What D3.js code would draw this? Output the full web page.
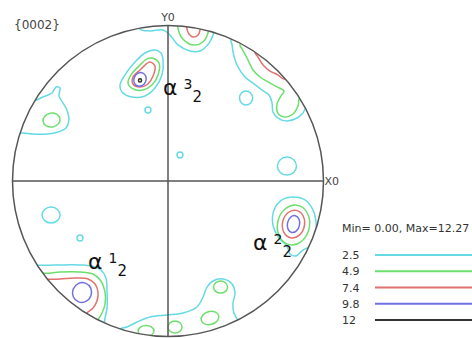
<!DOCTYPE html>
<html><head><meta charset="utf-8">
<script src="https://cdn.jsdelivr.net/npm/d3@7/dist/d3.min.js"></script>
<style>html,body{margin:0;padding:0;background:#fff;}svg{display:block;}</style>
</head><body>
<div id="chart"></div>
<script>
// ---------- data (pole-figure coordinates, % of radius; +y = Y0 direction) ----------
const figureTitle = "{0002}";
const minValue = 0.00, maxValue = 12.27;
const levels = [2.5, 4.9, 7.4, 9.8, 12];
const levelLabels = ["2.5", "4.9", "7.4", "9.8", "12"];

// open/irregular contour outlines per level (points beyond the rim are hidden by the rim clip)
const outlines25 = [
  // alpha3_2 outer
  [[-8.4,84.2],[-4.5,82.3],[-3.2,77.8],[-3.9,68.2],[-8.4,59.8],[-14.8,54.7],[-23.2,54.0],[-29.6,57.2],[-30.9,61.7],[-27.7,68.2],[-21.2,76.5],[-14.8,82.3]],
  // top near Y0
  [[-18.0,106.8],[-18.0,97.8],[-11.6,96.5],[-3.2,97.1],[1.3,93.9],[6.4,87.5],[14.1,83.6],[20.6,83.6],[26.4,88.7],[29.6,95.8],[30.9,106.8]],
  // upper right ridge
  [[40.5,90.7],[41.2,87.5],[41.8,83.0],[44.4,74.6],[49.5,66.9],[54.7,63.0],[60.5,58.5],[65.0,55.3],[66.9,50.2],[67.5,44.4],[70.7,40.5],[76.5,38.6],[83.0,40.5],[86.8,43.7],[88.7,46.9],[97.8,48.9],[84.9,87.5],[46.3,100.3]],
  // left lobe
  [[-95.2,55.3],[-87.5,51.4],[-80.4,54.0],[-74.6,56.6],[-72.0,60.5],[-69.5,59.8],[-70.1,54.7],[-67.5,50.2],[-65.0,45.7],[-63.7,39.2],[-65.6,34.1],[-70.7,31.5],[-77.8,30.2],[-86.8,30.2],[-93.9,30.9],[-101.6,29.6]],
  // alpha2_2 outer
  [[80.4,-10.3],[88.1,-12.2],[93.2,-18.6],[95.2,-26.4],[95.2,-34.7],[92.6,-41.2],[86.8,-44.4],[82.3,-48.2],[78.5,-46.9],[76.5,-41.8],[71.4,-36.7],[67.5,-28.3],[68.2,-18.6],[73.3,-12.2]],
  // alpha1_2 outer
  [[-90.0,-52.1],[-84.9,-54.0],[-72.7,-54.0],[-56.6,-54.0],[-48.9,-54.7],[-43.1,-57.2],[-39.9,-62.4],[-39.2,-71.4],[-39.2,-81.7],[-40.5,-88.1],[-41.2,-92.6],[-43.7,-99.0]],
  // bottom band
  [[-34.1,-102.3],[-30.9,-95.2],[-26.4,-93.9],[-19.9,-90.7],[-11.6,-87.5],[-0.6,-86.2],[9.6,-84.9],[18.6,-81.0],[22.5,-74.6],[25.1,-68.2],[28.9,-64.3],[35.4,-63.0],[41.2,-66.2],[43.1,-72.0],[41.8,-78.5],[42.4,-84.9],[45.0,-89.4],[52.7,-95.8],[0,-110.0]]
];
const outlines49 = [
  [[-10.3,79.1],[-5.8,75.9],[-6.4,68.2],[-10.3,61.7],[-16.1,58.5],[-22.5,59.2],[-25.7,63.0],[-23.8,68.2],[-18.0,74.6],[-13.5,78.5]],
  [[6.4,106.8],[6.4,98.4],[9.0,92.0],[16.1,87.5],[22.5,89.4],[25.7,95.2],[27.0,106.8]],
  [[46.3,87.5],[47.6,84.9],[50.8,79.1],[54.7,71.4],[59.2,66.9],[64.3,63.7],[70.1,60.5],[74.6,57.9],[72.7,54.7],[70.1,49.5],[70.7,43.7],[75.2,41.2],[80.4,43.1],[83.6,48.2],[84.9,54.0],[92.6,55.3],[78.5,84.2],[52.7,97.1]],
  [[-85.5,-55.9],[-80.4,-59.2],[-69.5,-58.5],[-56.6,-58.5],[-48.2,-59.8],[-43.1,-64.3],[-40.5,-71.4],[-40.5,-79.1],[-42.4,-84.9],[-45.0,-89.4],[-46.9,-95.8]]
];
const outlines74 = [
  [[-11.6,76.5],[-8.4,74.0],[-9.6,67.5],[-12.9,62.4],[-18.0,60.5],[-22.5,62.4],[-22.5,66.9],[-18.0,71.4],[-14.1,75.2]],
  [[12.2,106.8],[12.2,97.8],[13.5,94.5],[16.1,92.6],[19.3,93.9],[20.6,97.1],[20.6,106.8]],
  [[55.9,83.0],[57.9,79.7],[61.1,74.6],[65.6,70.7],[70.7,68.2],[74.6,65.6],[84.9,72.7],[68.8,90.7]],
  [[-82.3,-60.5],[-77.8,-63.0],[-69.5,-63.0],[-59.8,-62.4],[-51.4,-63.0],[-46.9,-66.2],[-45.0,-71.4],[-45.7,-77.2],[-48.2,-81.7],[-52.1,-84.9],[-56.6,-92.6]]
];
const outlines98 = [];
const outlines12 = [];

// small closed loops: [cx, cy, rx, ry, tilt°]
const loops25 = [[50.2,53.4,4.2,4.5,0],[-75.2,-21.9,5.8,5.1,0],[-56.6,-36.7,1.9,1.9,0],[-12.9,45.7,1.9,1.9,0],[7.7,16.7,1.9,1.9,0],[76.5,9.6,6.1,5.8,0]];
const loops49 = [[-74.9,39.2,5.5,4.5,-10],[80.7,-28.3,10.3,12.9,12],[-14.1,-96.5,5.1,3.5,0],[4.5,-93.9,4.5,3.9,0],[27.0,-88.1,5.8,4.2,-15],[33.8,-68.2,4.5,3.9,0]];
const loops74 = [[80.7,-27.7,7.1,9.0,12]];
const loops98 = [[-18.0,65.3,3.9,4.5,25],[80.7,-27.7,3.9,5.5,12],[-55.3,-71.7,6.1,6.4,20]];
const loops12 = [[-18.0,64.7,1.0,1.0,0]];

// component labels: [x, y, superscript, subscript]
const components = [[-3.2,55.3,"3","2"],[-51.4,-56.6,"1","2"],[54.7,-44.4,"2","2"]];

// ---------- drawing ----------
const W = 472, H = 338, CX = 168, CY = 181, R = 155.5;
const colors = ["#66dae4", "#6ddf6d", "#e27171", "#7070e4", "#333333"];
const x = d3.scaleLinear().domain([-100, 100]).range([CX - R, CX + R]);
const y = d3.scaleLinear().domain([-100, 100]).range([CY + R, CY - R]);
const k = x(1) - x(0);

const svg = d3.select("#chart").append("svg").attr("width", W).attr("height", H)
  .style("font-family", "'DejaVu Sans', sans-serif");

svg.append("defs").append("clipPath").attr("id", "disk")
  .append("circle").attr("cx", x(0)).attr("cy", y(0)).attr("r", x(100) - x(0));

const g = svg.append("g").attr("clip-path", "url(#disk)");
const line = d3.line().x(d => x(d[0])).y(d => y(d[1])).curve(d3.curveCatmullRomClosed.alpha(0.5));

const outlineSets = [outlines25, outlines49, outlines74, outlines98, outlines12];
const loopSets = [loops25, loops49, loops74, loops98, loops12];
levels.forEach((lv, i) => {
  g.selectAll(null).data(outlineSets[i]).join("path")
    .attr("d", line).attr("fill", "none").attr("stroke", colors[i]).attr("stroke-width", 1.5);
  g.selectAll(null).data(loopSets[i]).join("ellipse")
    .attr("cx", d => x(d[0])).attr("cy", d => y(d[1]))
    .attr("rx", d => d[2] * k).attr("ry", d => d[3] * k)
    .attr("transform", d => `rotate(${d[4]},${x(d[0])},${y(d[1])})`)
    .attr("fill", "none").attr("stroke", colors[i]).attr("stroke-width", 1.5);
});

// axes through the centre
svg.append("line").attr("x1", x(0)).attr("x2", x(0)).attr("y1", y(100)).attr("y2", y(-100))
  .attr("stroke", "#555").attr("stroke-width", 1.5);
svg.append("line").attr("x1", x(-100)).attr("x2", x(100)).attr("y1", y(0)).attr("y2", y(0))
  .attr("stroke", "#555").attr("stroke-width", 1.5);
// rim
svg.append("circle").attr("cx", x(0)).attr("cy", y(0)).attr("r", x(100) - x(0))
  .attr("fill", "none").attr("stroke", "#555").attr("stroke-width", 1.5);

svg.append("text").attr("x", x(0)).attr("y", y(100) - 5).attr("text-anchor", "middle")
  .attr("font-size", 11).attr("fill", "#444").text("Y0");
svg.append("text").attr("x", x(100) + 1).attr("y", y(0) + 4).attr("font-size", 11)
  .attr("fill", "#444").text("X0");
svg.append("text").attr("x", 14).attr("y", 29).attr("font-size", 12).attr("fill", "#444").text(figureTitle);

// component labels
components.forEach(c => {
  const t = svg.append("text").attr("x", x(c[0])).attr("y", y(c[1])).attr("fill", "#111");
  t.append("tspan").attr("font-size", 22).text("α");
  t.append("tspan").attr("dx", 6).attr("dy", -6).attr("font-size", 14).text(c[2]);
  t.append("tspan").attr("dx", 0).attr("dy", 13).attr("font-size", 15).text(c[3]);
});

// legend
const lg = svg.append("g");
lg.append("text").attr("x", 342).attr("y", 232).attr("font-size", 11).attr("fill", "#333")
  .text(`Min= ${minValue.toFixed(2)}, Max=${maxValue.toFixed(2)}`);
const ly = d3.scaleLinear().domain([0, 4]).range([255, 320]);
levels.forEach((lv, i) => {
  lg.append("text").attr("x", 342).attr("y", ly(i) + 4).attr("font-size", 11).attr("fill", "#333").text(levelLabels[i]);
  lg.append("line").attr("x1", 375).attr("x2", 472).attr("y1", ly(i)).attr("y2", ly(i))
    .attr("stroke", colors[i]).attr("stroke-width", 2);
});
</script>
</body></html>
